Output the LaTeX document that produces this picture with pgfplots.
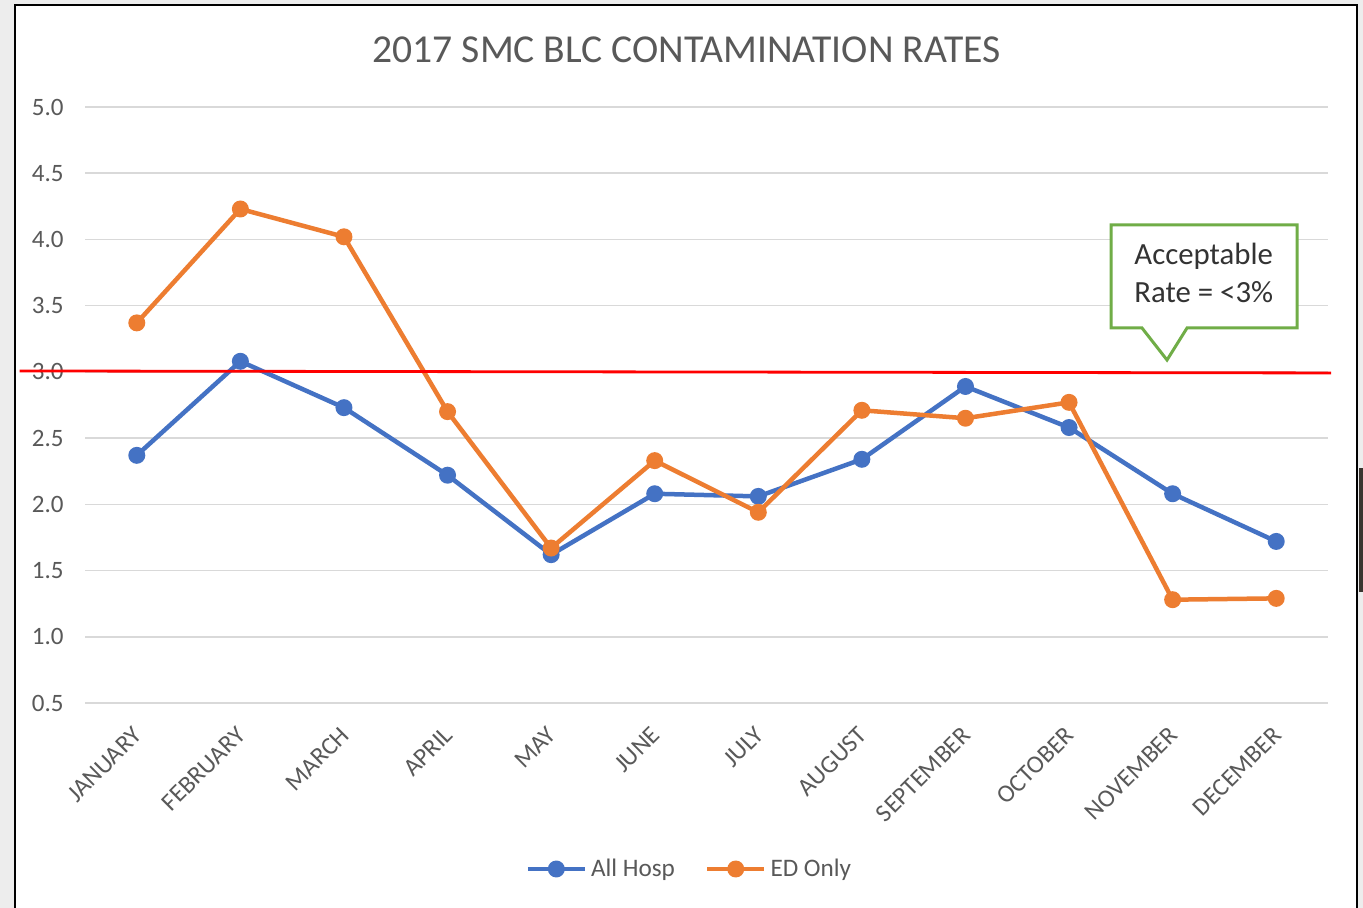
\documentclass[border=0pt]{standalone}
\usepackage{pgfplots}
\pgfplotsset{compat=1.18}
\usepackage{fontspec}
\setmainfont{Carlito}
\definecolor{blueS}{HTML}{4472C4}
\definecolor{orangeS}{HTML}{ED7D31}
\definecolor{txt}{HTML}{595959}
\definecolor{gridc}{HTML}{D9D9D9}
\definecolor{callgreen}{HTML}{70AD47}
\definecolor{outside}{HTML}{EDEDED}
\definecolor{darkbar}{HTML}{3A3530}
\begin{document}
\begin{tikzpicture}
\begin{scope}[x=0.5pt,y=-0.5pt]
\path[use as bounding box] (0,0) rectangle (1363,908);
\fill[outside] (0,0) rectangle (1363,908);
\fill[white] (15,5) rectangle (1357,908);
\draw[black, line width=1pt] (15,908) -- (15,5) -- (1357,5) -- (1357,908);
\fill[darkbar] (1359,468) rectangle (1363,592);
\node[anchor=base, inner sep=0pt, font=\fontsize{19.8pt}{23pt}\selectfont, text=txt] at (686.5,63) {2017 SMC BLC CONTAMINATION RATES};
\end{scope}
\begin{axis}[
  at={(42.5pt,-351.5pt)}, anchor=south west,
  scale only axis, width=621.5pt, height=298pt,
  xmin=-0.5, xmax=11.5, ymin=0.5, ymax=5,
  clip=false,
  axis line style={draw=none},
  major tick length=0pt,
  ymajorgrids, grid style={gridc, line width=0.75pt},
  ytick={0.5,1,1.5,2,2.5,3,3.5,4,4.5,5},
  /pgf/number format/fixed, /pgf/number format/fixed zerofill, /pgf/number format/precision=1, /pgf/number format/assume math mode=true,
  yticklabel style={font=\fontsize{12.5pt}{15pt}\selectfont, text=txt, inner sep=0pt, xshift=-10.5pt},
  xtick={0,...,11},
  xticklabels={JANUARY,FEBRUARY,MARCH,APRIL,MAY,JUNE,JULY,AUGUST,SEPTEMBER,OCTOBER,NOVEMBER,DECEMBER},
  xticklabel style={xshift=-2.5pt, yshift=-11pt, rotate=45, anchor=north east, inner sep=0pt, font=\fontsize{12.5pt}{15pt}\selectfont, text=txt},
  legend style={draw=none, fill=none, at={(axis description cs:0.487,-0.2785)}, anchor=center, legend columns=2, font=\fontsize{12.6pt}{15pt}\selectfont, text=txt, /tikz/every even column/.append style={column sep=13pt}, cells={anchor=west}},
  legend image code/.code={\draw[mark repeat=2, mark phase=2, #1] plot coordinates {(0pt,0pt) (14.25pt,0pt) (28.5pt,0pt)};},
]
\addplot[blueS, line width=2.25pt, mark=*, mark size=3.1pt, mark options={solid}] coordinates {
(0,2.37) (1,3.08) (2,2.73) (3,2.22) (4,1.62) (5,2.08) (6,2.06) (7,2.34) (8,2.89) (9,2.58) (10,2.08) (11,1.72)};
\addlegendentry{All Hosp}
\addplot[orangeS, line width=2.25pt, mark=*, mark size=3.1pt, mark options={solid}] coordinates {
(0,3.37) (1,4.23) (2,4.02) (3,2.70) (4,1.67) (5,2.33) (6,1.94) (7,2.71) (8,2.65) (9,2.77) (10,1.28) (11,1.29)};
\addlegendentry{ED Only}
\addplot[red, line width=1.4pt, forget plot] coordinates {(-1.13,3.007) (11.53,2.992)};
\end{axis}
\begin{scope}[x=0.5pt,y=-0.5pt]
\draw[callgreen, line width=1.5pt, fill=white, line join=miter] (1111,225) -- (1297,225) -- (1297,328) -- (1187,328) -- (1167,360) -- (1142,328) -- (1111,328) -- cycle;
\node[anchor=base west, inner sep=0pt, font=\fontsize{15.4pt}{18pt}\selectfont, text=black!80] at (1134,265) {Acceptable};
\node[anchor=base west, inner sep=0pt, font=\fontsize{15.4pt}{18pt}\selectfont, text=black!80] at (1134,303) {Rate = <3\%};
\end{scope}
\end{tikzpicture}
\end{document}
